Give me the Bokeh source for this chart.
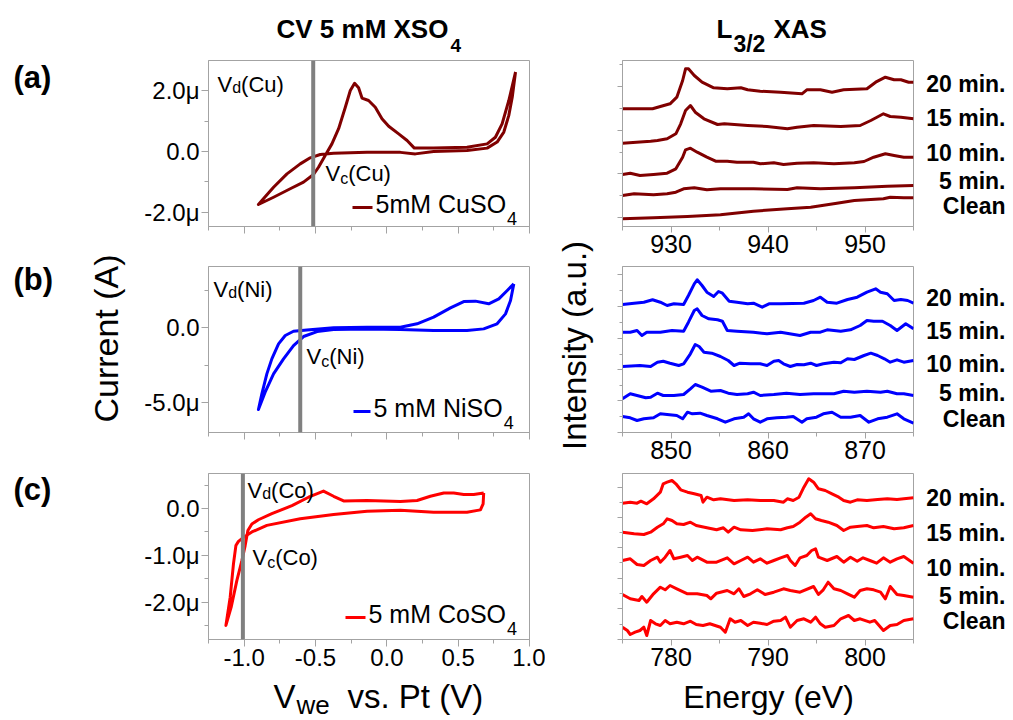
import math
from bokeh.plotting import figure
from bokeh.models import Range1d, FixedTicker, SingleIntervalTicker, PrintfTickFormatter, Label, Span
from bokeh.layouts import row, column
from bokeh.embed import file_html
from bokeh.resources import INLINE

# ---------------- data: cyclic voltammograms (V vs Pt, current in microampere) ----------------
cu_cv_v = [0.902, 0.879, 0.855, 0.820, 0.773, 0.703, 0.562, 0.328, 0.200, 0.095, -0.139, -0.373, -0.467, -0.537,
           -0.607, -0.700, -0.794, -0.865, -0.900, -0.794, -0.677, -0.584, -0.514, -0.479, -0.432, -0.385, -0.338,
           -0.291, -0.256, -0.226, -0.198, -0.174, -0.128, -0.081, -0.034, 0.013, 0.083, 0.142, 0.193, 0.328, 0.562,
           0.703, 0.761, 0.808, 0.855, 0.902]
cu_cv_i = [2.62, 1.79, 1.19, 0.64, 0.31, 0.11, 0.03, 0.00, -0.08, -0.03, -0.03, -0.06, -0.10, -0.21, -0.41, -0.74,
           -1.18, -1.56, -1.75, -1.51, -1.23, -1.01, -0.76, -0.52, -0.13, 0.25, 0.75, 1.46, 2.01, 2.25, 2.10, 1.76,
           1.68, 1.46, 1.08, 0.83, 0.58, 0.36, 0.11, 0.11, 0.14, 0.25, 0.47, 0.91, 1.68, 2.62]

ni_cv_v = [0.890, 0.867, 0.832, 0.773, 0.679, 0.562, 0.328, 0.095, -0.139, -0.373, -0.489, -0.584, -0.654, -0.724,
           -0.794, -0.853, -0.900, -0.876, -0.841, -0.806, -0.759, -0.712, -0.654, -0.560, -0.373, -0.139, 0.095,
           0.212, 0.328, 0.446, 0.539, 0.621, 0.714, 0.785, 0.844, 0.890]
ni_cv_i = [2.91, 1.80, 0.91, 0.25, -0.09, -0.20, -0.20, -0.13, -0.09, -0.13, -0.27, -0.60, -1.20, -2.09, -3.09,
           -4.31, -5.47, -4.42, -3.09, -2.09, -1.09, -0.53, -0.25, -0.16, -0.02, 0.02, 0.02, 0.25, 0.69, 1.31, 1.73,
           1.76, 1.58, 1.91, 2.47, 2.91]

co_cv_v = [0.679, 0.675, 0.656, 0.562, 0.328, 0.095, -0.139, -0.373, -0.607, -0.841, -0.946, -0.998, -1.040, -1.058,
           -1.075, -1.098, -1.128, -1.091, -1.051, -1.016, -0.993, -0.974, -0.946, -0.900, -0.806, -0.665, -0.549,
           -0.444, -0.373, -0.303, -0.139, 0.095, 0.212, 0.305, 0.399, 0.469, 0.539, 0.609, 0.679]
co_cv_i = [0.33, 0.10, -0.03, -0.08, -0.08, -0.04, -0.06, -0.13, -0.22, -0.36, -0.50, -0.60, -0.70, -0.79, -1.18,
           -1.89, -2.49, -2.10, -1.53, -1.11, -0.79, -0.47, -0.33, -0.24, -0.11, 0.06, 0.24, 0.37, 0.26, 0.16, 0.17,
           0.15, 0.17, 0.26, 0.33, 0.33, 0.30, 0.30, 0.33]

# deposition / crossover potentials (grey vertical lines)
cu_v_mark = -0.516
ni_v_mark = -0.607
co_v_mark = -1.009

# ---------------- data: L-edge XAS (energy eV, intensity a.u., curves offset) ----------------
cu20_e = [925.0, 928.1, 928.9, 929.9, 930.6, 931.2, 931.5, 931.8, 932.4, 933.2, 934.4, 935.8, 937.2, 937.9, 939.2,
          941.3, 943.5, 944.0, 945.4, 946.6, 947.8, 950.2, 951.1, 952.1, 953.0, 953.7, 954.5, 955.0]
cu20_i = [117.7, 117.7, 120.0, 122.7, 129.3, 146.0, 157.7, 157.7, 151.0, 144.3, 138.7, 137.7, 138.7, 136.7, 135.3,
          134.3, 132.7, 136.7, 136.7, 134.3, 136.7, 137.7, 144.3, 149.3, 146.7, 146.7, 144.3, 144.3]
cu15_e = [925.0, 927.9, 928.6, 929.6, 930.5, 931.0, 931.5, 932.0, 932.5, 933.4, 934.8, 935.5, 937.9, 939.9, 942.0,
          943.0, 944.7, 947.5, 949.5, 950.6, 951.9, 952.6, 953.7, 955.0]
cu15_i = [83.3, 85.3, 86.0, 87.7, 92.7, 102.7, 116.0, 121.0, 114.3, 107.7, 102.0, 102.7, 101.0, 100.0, 97.7, 99.3,
          101.0, 100.0, 101.0, 106.0, 112.7, 110.0, 109.3, 107.7]
cu10_e = [925.0, 925.8, 926.8, 928.2, 929.6, 930.5, 931.2, 931.5, 932.0, 932.7, 933.7, 934.6, 935.8, 936.8, 938.5,
          939.2, 940.6, 941.6, 943.0, 944.7, 946.8, 948.9, 949.9, 950.9, 952.1, 953.0, 954.0, 955.0]
cu10_i = [52.0, 53.3, 51.0, 52.0, 53.3, 57.7, 69.3, 76.7, 78.3, 74.3, 69.3, 65.3, 65.3, 64.3, 64.3, 62.7, 63.7, 62.0,
          63.3, 63.7, 62.7, 63.7, 65.0, 69.3, 72.7, 71.0, 69.3, 69.3]
cu5_e = [925.0, 926.2, 928.2, 929.6, 930.5, 931.3, 932.4, 933.7, 935.1, 938.5, 942.0, 943.0, 945.4, 948.9, 952.3, 955.0]
cu5_i = [31.0, 32.7, 31.7, 32.7, 34.3, 37.7, 38.7, 36.7, 37.7, 37.7, 37.0, 38.7, 37.7, 38.7, 40.3, 41.0]
cu0_e = [925.0, 928.2, 931.7, 935.1, 938.5, 942.0, 944.4, 947.1, 948.9, 950.6, 951.9, 952.6, 954.0, 955.0]
cu0_i = [7.7, 8.7, 10.0, 11.7, 15.3, 17.7, 19.3, 23.3, 26.0, 27.0, 27.7, 29.3, 28.7, 28.7]

ni20_e = [845.0, 846.2, 847.2, 848.1, 848.9, 849.6, 850.3, 851.3, 851.8, 852.4, 852.7, 853.2, 853.7, 854.4, 854.9,
          855.3, 856.0, 856.8, 857.9, 858.5, 859.4, 860.1, 861.3, 863.7, 864.7, 865.4, 866.1, 867.1, 868.2, 869.2,
          870.2, 871.1, 871.6, 872.3, 873.0, 873.7, 874.4, 875.0]
ni20_i = [128.0, 129.3, 130.3, 132.7, 130.3, 127.0, 128.7, 128.0, 137.0, 148.7, 152.7, 147.0, 140.3, 136.0, 141.0,
          139.3, 131.3, 130.3, 128.7, 129.3, 125.3, 128.7, 128.7, 129.3, 132.0, 135.3, 130.3, 129.3, 133.0, 135.3,
          140.3, 143.7, 140.3, 138.7, 132.0, 133.0, 132.0, 129.3]
ni15_e = [845.0, 845.8, 846.5, 847.0, 847.5, 848.9, 850.1, 851.3, 851.8, 852.4, 852.7, 853.2, 853.9, 854.8, 855.3,
          855.8, 856.8, 858.5, 859.9, 861.3, 863.3, 864.4, 865.4, 866.1, 867.5, 868.5, 869.5, 870.2, 870.9, 871.8,
          872.6, 873.3, 874.2, 875.0]
ni15_i = [100.3, 100.3, 102.0, 97.0, 100.3, 100.3, 102.0, 101.3, 110.3, 122.0, 123.7, 117.0, 113.7, 112.7, 111.3,
          102.0, 101.3, 100.3, 98.7, 100.3, 97.0, 100.3, 100.3, 102.7, 101.3, 102.7, 107.0, 112.0, 111.3, 111.3,
          107.0, 102.0, 108.7, 103.7]
ni10_e = [845.0, 846.8, 847.9, 848.6, 849.2, 849.9, 850.8, 851.3, 852.0, 852.5, 852.9, 853.4, 854.2, 855.1, 855.9,
          856.5, 857.1, 858.2, 859.2, 859.9, 860.6, 861.1, 861.6, 862.3, 863.0, 863.7, 864.4, 865.0, 865.7, 866.8,
          867.5, 868.2, 868.9, 869.9, 870.6, 871.3, 872.0, 872.6, 873.3, 874.0, 875.0]
ni10_i = [66.0, 67.0, 66.0, 70.3, 71.3, 69.3, 67.0, 68.7, 78.7, 88.0, 86.0, 80.3, 79.3, 76.0, 72.0, 67.0, 69.3, 68.7,
          68.7, 67.0, 71.3, 72.0, 68.7, 66.0, 68.0, 67.7, 69.3, 67.0, 68.7, 70.3, 69.7, 73.7, 73.0, 77.0, 79.3, 77.0,
          73.7, 70.3, 72.7, 70.3, 72.0]
ni5_e = [845.0, 845.8, 846.5, 847.4, 847.9, 848.6, 849.2, 850.3, 851.3, 852.0, 852.5, 853.2, 854.1, 855.1, 855.9,
         856.8, 857.9, 858.5, 859.2, 860.6, 861.9, 863.3, 864.7, 866.8, 867.8, 868.9, 870.2, 871.6, 872.3, 873.3,
         874.0, 875.0]
ni5_i = [33.7, 38.7, 37.0, 34.7, 35.3, 39.3, 37.0, 37.0, 38.0, 43.7, 48.0, 45.3, 41.3, 42.0, 39.3, 38.0, 38.7, 40.3,
         37.0, 38.0, 39.3, 38.0, 38.7, 38.7, 41.3, 40.3, 41.3, 40.3, 41.3, 38.7, 38.7, 37.0]
ni0_e = [845.0, 845.8, 846.5, 847.2, 848.2, 848.9, 849.6, 850.6, 851.2, 851.7, 852.2, 853.0, 853.7, 854.8, 855.6,
         856.5, 857.5, 858.0, 858.5, 859.2, 859.9, 860.9, 861.9, 862.6, 863.5, 864.0, 865.0, 865.7, 866.6, 867.5,
         868.5, 869.5, 870.4, 871.3, 872.3, 873.3, 874.0, 875.0]
ni0_i = [16.0, 14.7, 12.0, 13.7, 14.7, 18.7, 18.0, 17.0, 13.7, 20.3, 18.7, 19.3, 17.0, 13.7, 10.3, 13.7, 15.3, 18.7,
         13.7, 10.3, 13.7, 14.7, 15.3, 16.0, 10.3, 13.7, 15.3, 18.7, 20.3, 15.3, 15.3, 17.0, 10.3, 13.7, 15.3, 18.7,
         13.7, 9.3]

co20_e = [775.0, 775.8, 776.5, 776.9, 777.5, 778.2, 778.9, 779.2, 779.6, 780.1, 780.5, 781.0, 781.7, 782.4, 783.1,
          783.3, 783.7, 784.4, 785.1, 786.5, 787.9, 789.2, 790.6, 791.6, 792.0, 792.6, 793.2, 793.7, 794.2, 794.7,
          795.2, 795.9, 796.6, 797.3, 797.8, 798.5, 799.2, 800.2, 801.3, 802.3, 803.3, 804.0, 805.0]
co20_i = [136.3, 137.3, 136.3, 138.3, 135.7, 140.7, 147.3, 155.7, 157.3, 159.0, 155.7, 149.7, 147.3, 145.7, 144.0,
          137.3, 142.3, 139.7, 140.7, 139.0, 139.7, 139.0, 139.0, 137.3, 140.7, 139.0, 142.3, 152.3, 160.7, 157.3,
          150.7, 149.0, 145.7, 142.3, 139.0, 137.3, 139.7, 139.0, 140.0, 140.7, 140.0, 140.7, 141.7]
co15_e = [775.0, 776.2, 777.2, 777.9, 778.6, 779.2, 779.6, 780.1, 780.6, 781.3, 782.0, 782.6, 783.7, 784.7, 785.4,
          785.9, 786.5, 787.2, 788.4, 789.9, 791.3, 792.0, 792.6, 793.3, 793.9, 794.4, 794.9, 795.5, 796.2, 797.1,
          797.8, 798.5, 799.2, 800.2, 800.9, 801.9, 803.0, 804.0, 805.0]
co15_i = [107.3, 105.7, 105.0, 107.3, 112.3, 115.7, 120.7, 119.0, 115.7, 115.0, 117.3, 114.0, 111.7, 109.7, 111.7,
          107.3, 112.3, 109.7, 109.0, 110.7, 109.7, 111.7, 113.0, 117.3, 122.3, 125.7, 120.7, 119.0, 117.3, 114.0,
          109.0, 112.3, 113.0, 114.0, 111.7, 113.0, 110.7, 111.7, 114.0]
co10_e = [775.0, 775.8, 776.5, 777.2, 777.9, 778.6, 778.9, 779.4, 779.9, 780.3, 781.0, 781.7, 782.2, 782.7, 783.7,
          784.7, 785.8, 786.5, 787.2, 787.9, 788.5, 789.2, 789.9, 790.6, 791.3, 792.0, 792.3, 792.8, 793.3, 794.0,
          794.5, 794.9, 795.2, 796.1, 797.1, 797.8, 798.5, 799.2, 799.8, 800.5, 801.2, 801.9, 802.6, 803.3, 804.0,
          805.0]
co10_i = [79.0, 80.7, 75.0, 74.0, 79.0, 82.3, 77.3, 82.3, 89.0, 80.7, 82.3, 84.0, 79.0, 82.3, 77.3, 77.3, 81.7, 75.7,
          79.0, 82.3, 77.3, 80.7, 76.3, 79.0, 81.7, 84.0, 79.0, 74.0, 81.7, 84.0, 89.0, 90.7, 82.3, 79.0, 83.0, 77.3,
          82.3, 78.3, 81.7, 79.0, 76.3, 81.7, 77.3, 80.7, 83.0, 76.3]
co5_e = [775.0, 775.8, 776.7, 777.0, 777.5, 778.2, 778.9, 779.4, 779.9, 780.6, 781.7, 782.7, 783.7, 784.1, 784.7,
         785.8, 786.5, 787.0, 787.5, 788.2, 788.9, 789.7, 790.6, 791.6, 792.3, 793.3, 794.7, 795.2, 795.7, 796.2,
         796.8, 797.5, 798.2, 798.9, 799.5, 800.2, 800.9, 801.6, 802.1, 802.6, 803.3, 804.0, 805.0]
co5_i = [45.0, 40.7, 39.0, 43.0, 37.3, 45.7, 52.3, 49.7, 54.0, 50.7, 45.7, 45.7, 44.0, 40.7, 46.3, 49.0, 45.7, 50.7,
         43.0, 45.7, 49.7, 45.0, 47.3, 50.7, 49.0, 47.3, 53.0, 45.0, 49.7, 57.3, 50.7, 49.0, 45.7, 42.3, 49.0, 50.7,
         49.7, 47.3, 40.7, 53.0, 45.0, 44.0, 42.3]
co0_e = [775.0, 775.5, 775.8, 776.3, 776.8, 777.2, 777.5, 777.9, 778.4, 778.9, 779.4, 779.9, 780.6, 781.3, 782.0,
         782.6, 783.3, 784.0, 785.1, 785.6, 786.1, 786.6, 787.2, 787.9, 788.5, 789.2, 789.9, 790.6, 791.3, 791.8,
         792.3, 793.0, 793.7, 794.4, 794.9, 795.4, 795.9, 796.8, 797.5, 798.3, 798.9, 799.5, 800.5, 801.0, 801.9,
         802.6, 803.3, 804.0, 805.0]
co0_i = [12.3, 9.0, 5.0, 7.3, 9.0, 12.3, 4.0, 19.0, 15.7, 14.0, 19.0, 15.7, 17.3, 15.7, 18.3, 15.0, 14.0, 15.7, 12.3,
         7.3, 20.7, 17.3, 19.0, 14.0, 17.3, 16.3, 15.0, 18.3, 19.0, 22.3, 12.3, 19.0, 20.7, 17.3, 22.3, 15.7, 12.3,
         14.0, 20.7, 24.0, 19.0, 20.7, 17.3, 19.0, 9.0, 14.0, 15.0, 19.0, 20.7]

time_labels = ["20 min.", "15 min.", "10 min.", "5 min.", "Clean"]

# axis ranges and ticks
cv_v_range = (-1.25, 1.0)
cu_cv_range = (-2.475, 3.0)
ni_cv_range = (-7.0, 4.07)
co_cv_range = (-2.79, 0.745)
cu_cv_ticks, cu_cv_minor, cu_cv_labels = [-2, 0, 2], [-1, 1], ["-2.0\u03bc", "0.0", "2.0\u03bc"]
ni_cv_ticks, ni_cv_minor, ni_cv_labels = [-5, 0], [-2.5, 2.5], ["-5.0\u03bc", "0.0"]
co_cv_ticks, co_cv_minor, co_cv_labels = [-2, -1, 0], [-2.5, -1.5, -0.5, 0.5], ["-2.0\u03bc", "-1.0\u03bc", "0.0"]

cu_e_range, ni_e_range, co_e_range = (925, 955), (845, 875), (775, 805)
xas_i_range = (0, 166)
cu_xas_ticks, cu_xas_minor = [9, 53, 96, 140], [31, 74, 118, 162]
ni_xas_ticks, ni_xas_minor = [0, 32, 63, 94, 126, 158], [16, 47, 78, 110, 142]
co_xas_ticks, co_xas_minor = [0, 31, 61, 92, 122, 152], [15, 46, 77, 107, 137]

# ---------------- layout constants (page pixels) ----------------
FONT = "Liberation Sans"
GREY = "#a3a3a3"
CU, NI, CO = "#800000", "#0000ff", "#ff0000"
PAGE_W, PAGE_H = 1013, 720
TITLE_H = 59          # top strip
BOTTOM_Y = 677        # bottom strip starts here
STRIP_L_W = 140       # left strip (panel letters, y title)
LEFT_FL, LEFT_FW = 208, 321
CV_COL_W = 405
MID_W = 50
RIGHT_FL, RIGHT_FW = 622, 291
XAS_COL_W = 320
FRAME_H = 166
TOPS = [60, 266, 473]

W_REG = {' ': 278, '(': 333, ')': 333, '.': 278, '/': 278, 'A': 667, 'C': 722, 'E': 667, 'L': 556, 'M': 833,
         'N': 722, 'O': 778, 'P': 667, 'S': 667, 'V': 667, 'X': 667, 'a': 556, 'c': 500, 'd': 556, 'e': 556,
         'g': 556, 'i': 222, 'm': 833, 'n': 556, 'o': 556, 'r': 333, 's': 500, 't': 278, 'u': 556, 'v': 500,
         'w': 722, 'y': 500}
W_BOLD = {' ': 278, '/': 278, 'A': 722, 'C': 722, 'L': 611, 'M': 833, 'O': 778, 'S': 667, 'V': 667, 'X': 667,
          'm': 889}


def text_w(s, size, bold=False):
    tbl = W_BOLD if bold else W_REG
    return sum(tbl.get(ch, 556) for ch in s) * size / 1000.0


def mk_label(x, y, text, size, bold=False, align="left", angle=0.0):
    return Label(x=x, y=y, text=text, text_font=FONT, text_font_size=f"{size}px",
                 text_font_style="bold" if bold else "normal", text_align=align,
                 text_baseline="middle", angle=angle, text_color="black")


def strip(px0, py0, w, h):
    # blank figure whose frame covers it entirely; data units == page pixels
    p = figure(width=w, height=h, x_range=Range1d(px0, px0 + w), y_range=Range1d(py0 + h, py0),
               x_axis_type=None, y_axis_type=None, min_border=0, output_backend="svg",
               toolbar_location=None, tools="", title=None)
    p.outline_line_color = None
    p.background_fill_color = "white"
    p.border_fill_color = "white"
    return p


def make_fig(fr, top, bottom, lb, rb):
    fl, ft, fw, xr, yr = fr
    p = figure(frame_width=fw, frame_height=FRAME_H, x_range=Range1d(*xr), y_range=Range1d(*yr),
               min_border_left=lb, min_border_right=rb, min_border_top=top, min_border_bottom=bottom,
               output_backend="svg", toolbar_location=None, tools="", title=None)
    p.grid.visible = False
    p.outline_line_color = GREY
    p.outline_line_width = 1
    p.background_fill_color = "white"
    p.border_fill_color = "white"
    for ax in p.axis:
        ax.axis_line_color = GREY
        ax.major_tick_line_color = GREY
        ax.minor_tick_line_color = GREY
        ax.major_tick_in = 0
        ax.minor_tick_in = 0
        ax.major_label_text_font = FONT
        ax.major_label_text_color = "black"
    return p


def hide_labels(ax):
    ax.major_label_text_font_size = "1px"
    ax.major_label_text_color = None
    ax.major_label_standoff = 0


def to_data(fr, px, py):
    fl, ft, fw, xr, yr = fr
    x = xr[0] + (px - fl) * (xr[1] - xr[0]) / fw
    y = yr[1] - (py - ft) * (yr[1] - yr[0]) / FRAME_H
    return x, y


def label(p, fr, px, py, text, size, bold=False, align="left"):
    x, y = to_data(fr, px, py)
    p.add_layout(mk_label(x, y, text, size, bold, align))


def sub_text(p, fr, x, y, parts):
    for txt, size, dy, bold in parts:
        label(p, fr, x, y + dy, txt, size, bold=bold)
        x += text_w(txt, size, bold)


def cv_panel(idx, yr, ticks, minor, labels, v, i, color, vmark, show_x, top, bottom):
    fr = (LEFT_FL, TOPS[idx], LEFT_FW, cv_v_range, yr)
    p = make_fig(fr, top, bottom, LEFT_FL - STRIP_L_W, STRIP_L_W + CV_COL_W - LEFT_FL - LEFT_FW)
    p.xaxis.ticker = SingleIntervalTicker(interval=0.5, num_minor_ticks=2)
    p.xaxis.formatter = PrintfTickFormatter(format="%.1f")
    p.xaxis.major_tick_out = 7
    p.xaxis.minor_tick_out = 4
    if show_x:
        p.xaxis.major_label_text_font_size = "24px"
        p.xaxis.major_label_standoff = 2
    else:
        hide_labels(p.xaxis)
    p.yaxis.ticker = FixedTicker(ticks=ticks, minor_ticks=minor)
    p.yaxis.major_label_overrides = {t: s for t, s in zip(ticks, labels)}
    p.yaxis.major_label_text_font_size = "24px"
    p.yaxis.major_label_standoff = 2
    p.yaxis.major_tick_out = 7
    p.yaxis.minor_tick_out = 4
    p.add_layout(Span(location=vmark, dimension="height", line_color="#808080", line_width=4))
    p.line(v, i, line_color=color, line_width=3, line_join="round")
    return p, fr


def xas_panel(idx, erange, curves, color, ticks, minor, top, bottom):
    fr = (RIGHT_FL, TOPS[idx], RIGHT_FW, erange, xas_i_range)
    x0 = STRIP_L_W + CV_COL_W + MID_W
    p = make_fig(fr, top, bottom, RIGHT_FL - x0, x0 + XAS_COL_W - RIGHT_FL - RIGHT_FW)
    p.xaxis.ticker = SingleIntervalTicker(interval=10, num_minor_ticks=2)
    p.xaxis.major_label_text_font_size = "25px"
    p.xaxis.major_label_standoff = 2
    p.xaxis.major_tick_out = 6
    p.xaxis.minor_tick_out = 4
    p.yaxis.ticker = FixedTicker(ticks=ticks, minor_ticks=minor)
    hide_labels(p.yaxis)
    p.yaxis.major_tick_out = 5
    p.yaxis.minor_tick_out = 3
    for e, inten in curves:
        p.line(e, inten, line_color=color, line_width=3, line_join="round")
    return p, fr


# ---------------- left column: CV ----------------
pa, fa = cv_panel(0, cu_cv_range, cu_cv_ticks, cu_cv_minor, cu_cv_labels, cu_cv_v, cu_cv_i, CU, cu_v_mark,
                  False, 1, 20)
pb, fb = cv_panel(1, ni_cv_range, ni_cv_ticks, ni_cv_minor, ni_cv_labels, ni_cv_v, ni_cv_i, NI, ni_v_mark,
                  False, 20, 20)
pc, fc = cv_panel(2, co_cv_range, co_cv_ticks, co_cv_minor, co_cv_labels, co_cv_v, co_cv_i, CO, co_v_mark,
                  True, 21, 38)

# V_d / V_c annotations
for p, fr, x, y, sub, el, dy in [(pa, fa, 217, 84, "d", "(Cu)", 3), (pa, fa, 325, 173, "c", "(Cu)", 5),
                                 (pb, fb, 213, 289, "d", "(Ni)", 3), (pb, fb, 306, 356, "c", "(Ni)", 5),
                                 (pc, fc, 247, 490, "d", "(Co)", 3), (pc, fc, 252, 557, "c", "(Co)", 5)]:
    sub_text(p, fr, x, y, [("V", 22, 0, False), (sub, 16, dy, False), (el, 22, 0, False)])

# legends
for p, fr, x0, x1, ly, txt, col in [(pa, fa, 352, 372, 207, "5mM CuSO", CU),
                                     (pb, fb, 353, 370, 411, "5 mM NiSO", NI),
                                     (pc, fc, 345, 365, 617, "5 mM CoSO", CO)]:
    xa, ya = to_data(fr, x0, ly)
    xb, _ = to_data(fr, x1, ly)
    p.segment(x0=[xa], y0=[ya], x1=[xb], y1=[ya], line_color=col, line_width=3)
    tx = x1 + 3
    label(p, fr, tx, ly - 4, txt, 25)
    label(p, fr, tx + text_w(txt, 25) + 1, ly + 11, "4", 18)

# ---------------- right column: XAS ----------------
ra, fra = xas_panel(0, cu_e_range, [(cu20_e, cu20_i), (cu15_e, cu15_i), (cu10_e, cu10_i), (cu5_e, cu5_i),
                                    (cu0_e, cu0_i)], CU, cu_xas_ticks, cu_xas_minor, 1, 38)
rb, frb = xas_panel(1, ni_e_range, [(ni20_e, ni20_i), (ni15_e, ni15_i), (ni10_e, ni10_i), (ni5_e, ni5_i),
                                    (ni0_e, ni0_i)], NI, ni_xas_ticks, ni_xas_minor, 2, 38)
rc, frc = xas_panel(2, co_e_range, [(co20_e, co20_i), (co15_e, co15_i), (co10_e, co10_i), (co5_e, co5_i),
                                    (co0_e, co0_i)], CO, co_xas_ticks, co_xas_minor, 3, 38)

# ---------------- text strips ----------------
mid_h = BOTTOM_Y - TITLE_H
st_top = strip(0, 0, PAGE_W, TITLE_H)
x = 276
st_top.add_layout(mk_label(x, 28, "CV 5 mM XSO", 26, bold=True))
st_top.add_layout(mk_label(x + text_w("CV 5 mM XSO", 26, True) + 2, 45, "4", 19, bold=True))
st_top.add_layout(mk_label(716, 28, "L", 26, bold=True))
st_top.add_layout(mk_label(716 + text_w("L", 26, True) + 1, 43, "3/2", 23, bold=True))
st_top.add_layout(mk_label(773, 28, "XAS", 26, bold=True))

st_left = strip(0, TITLE_H, STRIP_L_W, mid_h)
for txt, y in [("(a)", 77), ("(b)", 279), ("(c)", 489)]:
    st_left.add_layout(mk_label(13, y, txt, 31, bold=True))
st_left.add_layout(mk_label(105, 338, "Current (A)", 34, align="center", angle=math.pi / 2))

mid_x0 = STRIP_L_W + CV_COL_W
st_mid = strip(mid_x0, TITLE_H, MID_W, mid_h)
st_mid.add_layout(mk_label(574, 345, "Intensity (a.u.)", 33, align="center", angle=math.pi / 2))

right_x0 = mid_x0 + MID_W + XAS_COL_W
st_right = strip(right_x0, TITLE_H, PAGE_W - right_x0, mid_h)
for ys in [[83, 117, 152, 180, 205], [297, 330, 363, 392, 418], [497, 532, 567, 595, 620]]:
    for txt, y in zip(time_labels, ys):
        st_right.add_layout(mk_label(1005, y, txt, 23, bold=True, align="right"))

st_bot = strip(0, BOTTOM_Y, PAGE_W, PAGE_H - BOTTOM_Y)
st_bot.add_layout(mk_label(273, 696, "V", 33))
st_bot.add_layout(mk_label(273 + text_w("V", 33) + 1, 704, "we", 26))
st_bot.add_layout(mk_label(347, 696, "vs. Pt (V)", 33))
st_bot.add_layout(mk_label(768, 696, "Energy (eV)", 32, align="center"))

layout = column(st_top,
                row(st_left, column(pa, pb, pc), st_mid, column(ra, rb, rc), st_right),
                st_bot)
open("out.html", "w").write(file_html(layout, INLINE))
